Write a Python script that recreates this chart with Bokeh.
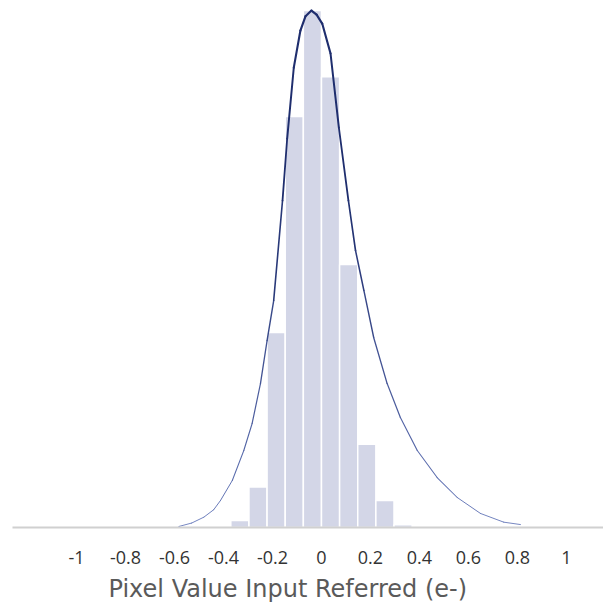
from bokeh.plotting import figure
from bokeh.models import Range1d, FixedTicker, Title
from bokeh.embed import file_html
from bokeh.resources import INLINE

# Histogram bins (e-) and density heights
bin_edges = [-0.37, -0.296, -0.222, -0.148, -0.074, 0.0, 0.074, 0.148, 0.222, 0.296, 0.37]
bin_heights = [0.047, 0.274, 1.319, 2.781, 3.498, 3.051, 1.779, 0.564, 0.183, 0.018]

# Fitted curve
curve_x = [-0.582, -0.530, -0.480, -0.440, -0.412, -0.364, -0.317, -0.283, -0.249, -0.222, -0.195,
           -0.159, -0.140, -0.113, -0.086, -0.065, -0.041, -0.020, 0.003, 0.037,
           0.071, 0.110, 0.139, 0.173, 0.213, 0.268, 0.322, 0.391, 0.472, 0.554,
           0.649, 0.744, 0.812]
curve_y = [0.007, 0.030, 0.070, 0.120, 0.183, 0.318, 0.521, 0.704, 0.974, 1.265, 1.536,
           2.212, 2.632, 3.112, 3.363, 3.46, 3.498, 3.47, 3.410, 3.207,
           2.706, 2.212, 1.874, 1.604, 1.286, 0.974, 0.744, 0.521, 0.338, 0.203,
           0.095, 0.036, 0.020]

tick_values = [-1, -0.8, -0.6, -0.4, -0.2, 0, 0.2, 0.4, 0.6, 0.8, 1]
tick_labels = ["-1", "-0.8", "-0.6", "-0.4", "-0.2", "0", "0.2", "0.4", "0.6", "0.8", "1"]
x_title = "Pixel Value Input Referred (e-)"

FONT = "Open Sans"

p = figure(width=603, height=611, output_backend="svg", toolbar_location=None,
           x_range=Range1d(-1.261, 1.151), y_range=Range1d(0, 3.512),
           y_axis_location=None, min_border_left=12, min_border_right=0,
           min_border_top=8, min_border_bottom=84)
p.outline_line_color = None
p.grid.visible = False
p.background_fill_color = "white"
p.border_fill_color = "white"

p.quad(left=bin_edges[:-1], right=bin_edges[1:], bottom=0, top=bin_heights,
       fill_color="#d3d6e7", line_color="white", line_width=1.5)

# curve drawn as segments: thicker/darker near the peak, thinner at the tails
ymax = max(curve_y)
xs = [[curve_x[i], curve_x[i + 1]] for i in range(len(curve_x) - 1)]
ys = [[curve_y[i], curve_y[i + 1]] for i in range(len(curve_y) - 1)]
widths = [0.9 + 1.3 * ((curve_y[i] + curve_y[i + 1]) / 2 / ymax) for i in range(len(curve_y) - 1)]
def mix(t):
    a = (0x6a, 0x7c, 0xbd)
    b = (0x1f, 0x2e, 0x6e)
    return "#%02x%02x%02x" % tuple(int(a[k] + (b[k] - a[k]) * t) for k in range(3))
colors = [mix(min(1.0, ((curve_y[i] + curve_y[i + 1]) / 2 / ymax) * 1.6)) for i in range(len(curve_y) - 1)]
p.multi_line(xs=xs, ys=ys, line_color=colors, line_width=widths, line_cap="round", line_join="round")

ax = p.xaxis[0]
ax.ticker = FixedTicker(ticks=tick_values)
ax.major_label_overrides = {v: s for v, s in zip(tick_values, tick_labels)}
ax.axis_line_color = "#d0d0d0"
ax.axis_line_width = 2
ax.major_tick_line_color = None
ax.minor_tick_line_color = None
ax.major_label_text_font = FONT
ax.major_label_text_font_size = "18px"
ax.major_label_text_color = "#333333"
ax.major_label_standoff = 17

title = Title(text=x_title, align="left", offset=96, text_font="DejaVu Sans",
              text_font_size="24px", text_font_style="normal",
              text_color="#5a5a5a", standoff=12, text_line_height=1.0)
p.add_layout(title, "below")

open("out.html", "w").write(file_html(p, INLINE))
